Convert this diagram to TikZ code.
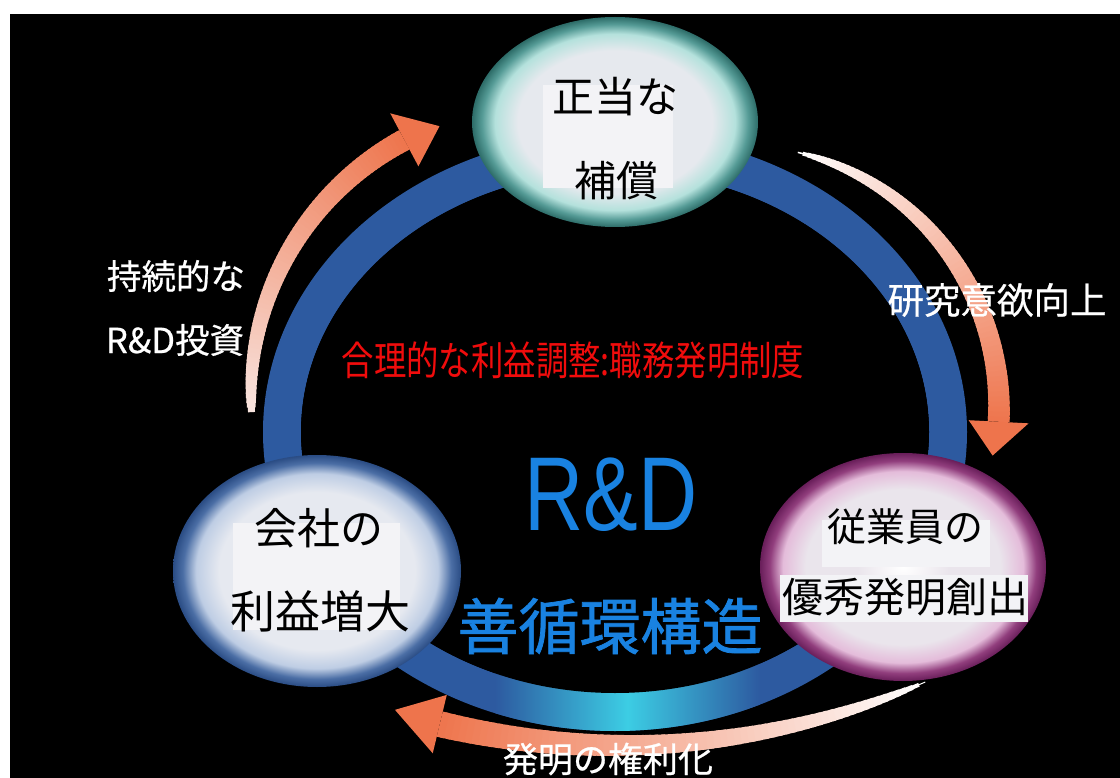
\documentclass[tikz,border=0pt]{standalone}
\usepackage{fontspec}
\usetikzlibrary{shapes.geometric}
\newfontfamily\jp{Noto Sans CJK JP}
\newfontfamily\jpw{Noto Sans CJK JP}[FakeBold=0.6]
\newfontfamily\jpb{Noto Sans CJK JP}[FakeBold=1.2]
\newfontfamily\arialf{Liberation Sans}
\definecolor{ringblue}{RGB}{45,90,160}
\definecolor{ringcyan}{RGB}{60,205,228}
\definecolor{arrowhead}{RGB}{238,116,76}
\definecolor{tailpink}{RGB}{248,228,222}
\definecolor{boxgray}{RGB}{243,243,246}
\definecolor{redtxt}{RGB}{240,12,12}
\definecolor{rdblue}{RGB}{25,130,225}
\definecolor{topin}{RGB}{230,233,238}
\definecolor{topmid}{RGB}{180,225,220}
\definecolor{toprim}{RGB}{85,155,150}
\definecolor{topdark}{RGB}{45,108,104}
\definecolor{leftin}{RGB}{230,233,240}
\definecolor{leftmid}{RGB}{190,205,228}
\definecolor{leftrim}{RGB}{75,110,165}
\definecolor{leftdark}{RGB}{42,76,132}
\definecolor{rightin}{RGB}{234,229,236}
\definecolor{rightmid}{RGB}{228,188,218}
\definecolor{rightrim}{RGB}{145,62,125}
\definecolor{rightdark}{RGB}{105,30,90}
\pgfdeclareradialshading{topbub}{\pgfpointorigin}{color(0bp)=(white); color(8bp)=(topin); color(17bp)=(topin); color(21bp)=(topmid); color(23.3bp)=(toprim); color(25bp)=(topdark); color(50bp)=(topdark)}
\pgfdeclareradialshading{leftbub}{\pgfpointorigin}{color(0bp)=(white); color(8bp)=(leftin); color(17bp)=(leftin); color(21bp)=(leftmid); color(23.3bp)=(leftrim); color(25bp)=(leftdark); color(50bp)=(leftdark)}
\pgfdeclareradialshading{rightbub}{\pgfpointorigin}{color(0bp)=(white); color(8bp)=(rightin); color(17bp)=(rightin); color(21bp)=(rightmid); color(23.3bp)=(rightrim); color(25bp)=(rightdark); color(50bp)=(rightdark)}
\newcommand\myTaperArrow[9]{%
  \foreach \i in {0,...,71}{%
    \pgfmathsetmacro\aa{#4+(#5-#4)*\i/72}%
    \pgfmathsetmacro\ab{#4+(#5-#4)*min(\i+1.5,72)/72}%
    \pgfmathsetmacro\ww{#6+(#7-#6)*sqrt(\i/72)}%
    \pgfmathsetmacro\pc{100*\i/72}%
    \draw[line width=\ww pt, arrowhead!\pc!#9] ({#1+#3*cos(\aa)},{#2+#3*sin(\aa)}) arc[start angle=\aa, end angle=\ab, radius=#3];
  }%
  \fill[arrowhead] ({#1+(#3-30)*cos(#5)},{#2+(#3-30)*sin(#5)}) -- ({#1+(#3+30)*cos(#5)},{#2+(#3+30)*sin(#5)}) -- ({#1+(#3-2)*cos(#8)},{#2+(#3-2)*sin(#8)}) -- cycle;
}
\tikzset{
  bubble/.style={ellipse, shade, inner sep=0pt, draw=none},
  tbox/.style={fill=boxgray, draw=none},
  btxt/.style={text=black, inner sep=0pt},
  wlabel/.style={text=white, inner sep=0pt},
}
\begin{document}
\begin{tikzpicture}[x=1pt, y=1pt]
\useasboundingbox (0,0) rectangle (1120,-778);
\fill[white] (0,0) rectangle (1120,-778);
\fill[black] (10,-14) rectangle (1120,-778);
% ring
\coordinate (ringc) at (615,-432);
\draw[ringblue, line width=38pt] (ringc) ellipse [x radius=333, y radius=280];
\begin{scope}
  \clip (ringc) ellipse [x radius=352, y radius=299];
  \shade[left color=ringblue, right color=ringblue, middle color=ringcyan] (495,-760) rectangle (760,-660);
\end{scope}
\fill[black] (ringc) ellipse [x radius=314, y radius=261];
% bubbles
\node[bubble, shading=topbub, minimum width=286pt, minimum height=210pt] (top) at (615,-122) {};
\node[bubble, shading=leftbub, minimum width=288pt, minimum height=232pt] (left) at (317,-571) {};
\node[bubble, shading=rightbub, minimum width=286pt, minimum height=228pt] (right) at (903,-567) {};
% text boxes
\fill[tbox] (543,-85) rectangle (673,-188);
\fill[tbox] (233,-523) rectangle (400,-630);
\fill[tbox] (822,-520) rectangle (990,-567);
\fill[tbox] (780,-575) rectangle (1028,-622);
% bubble texts
\node[btxt, font=\jp\fontsize{42}{48}\selectfont] (t1) at (615,-97) {正当な};
\node[btxt, font=\jp\fontsize{42}{48}\selectfont] (t2) at (616,-181) {補償};
\node[btxt, font=\jp\fontsize{43}{48}\selectfont] (l1) at (319,-528) {会社の};
\node[btxt, font=\jp\fontsize{45}{48}\selectfont] (l2) at (320,-611) {利益増大};
\node[btxt, font=\jp\fontsize{39}{44}\selectfont] (r1) at (905,-527) {従業員の};
\node[btxt, font=\jp\fontsize{41}{46}\selectfont] (r2) at (905,-597) {優秀発明創出};
% arrows
\myTaperArrow{540}{-395}{289}{183.4}{118}{7}{22}{110.5}{tailpink}
\myTaperArrow{736}{-408}{263}{76.4}{-3}{1.5}{22}{-10.5}{white}
\myTaperArrow{619.5}{24.6}{770}{-66.6}{-103.5}{1}{26}{-107}{white}
% center texts
\node[text=redtxt, inner sep=0pt, font=\jp\fontsize{40}{44}\selectfont] (sys) at (573,-360) {\scalebox{0.81}[1]{合理的な利益調整:職務発明制度}};
\node[text=rdblue, inner sep=0pt, anchor=base, font=\arialf\fontsize{105}{110}\selectfont] (rd) at (611,-530) {\scalebox{0.78}[1]{R\&D}};
\node[text=rdblue, inner sep=0pt, font=\jpb\fontsize{61}{66}\selectfont] (cyc) at (610,-626) {善循環構造};
% outside labels
\node[wlabel, font=\jpw\fontsize{34.5}{40}\selectfont] (la) at (176,-276) {持続的な};
\node[wlabel, font=\jpw\fontsize{34.5}{40}\selectfont] (lb) at (175,-340) {R\&D投資};
\node[wlabel, font=\jpw\fontsize{36.5}{42}\selectfont] (lr) at (997,-300) {研究意欲向上};
\node[wlabel, font=\jpw\fontsize{35}{40}\selectfont] (lbt) at (608,-759) {発明の権利化};
\end{tikzpicture}
\end{document}
